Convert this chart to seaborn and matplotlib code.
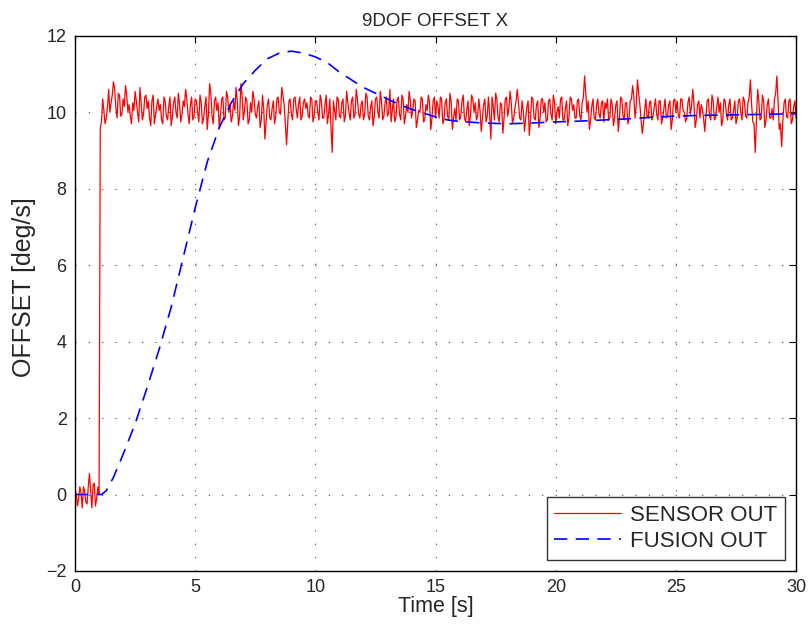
import numpy as np
import pandas as pd
import matplotlib
matplotlib.use("Agg")
import matplotlib.pyplot as plt
import seaborn as sns

# sensor output; samples on the 0.1 s grid...
sensor_start = [0.15, -0.3, 0.2, -0.35, 0.1, -0.25, 0.55, -0.35, 0.3, -0.1, 0.0]  # t = 0.0 .. 1.0
sensor_rest = [
    9.75, 10.05, 9.85, 10.6, 10.25, 10.8, 10.1, 10.5, 9.9, 10.35,
    10.7, 10.0, 9.9, 10.25, 10.55, 10.0, 10.65, 9.8, 10.4, 10.1,
    9.85, 10.3, 9.7, 10.15, 10.05, 9.8, 10.4, 9.9, 10.15, 9.65,
    10.25, 10.0, 10.5, 9.75, 10.3, 10.6, 9.95, 10.2, 9.8, 10.35,
    10.0, 10.45, 9.7, 10.15, 9.55, 10.75, 9.9, 10.3, 10.05, 9.6,
    10.35, 9.8, 10.55, 10.0, 9.75, 10.3, 10.65, 9.65, 10.75, 9.8,
    10.4, 9.7, 10.25, 10.55, 9.95, 10.15, 9.6, 10.45, 9.3, 10.2,
    9.85, 10.1, 9.7, 10.35, 10.0, 10.65, 10.2, 9.15, 10.3, 9.95,
    10.35, 10.1, 10.2, 9.8, 10.25, 10.1, 9.9, 10.4, 9.75, 10.3,
    10.0, 10.45, 9.85, 10.2, 9.7, 10.35, 8.95, 10.05, 10.4, 9.9,
    10.25, 9.75, 10.55, 10.0, 10.3, 9.85, 10.6, 9.95, 10.2, 9.8,
    10.5, 9.9, 10.15, 9.65, 10.35, 10.0, 10.55, 9.8, 10.25, 9.9,
    10.6, 10.05, 9.75, 10.3, 9.95, 10.45, 9.7, 10.2, 10.55, 9.85,
    10.35, 9.6, 10.05, 10.4, 9.75, 10.2, 10.45, 9.55, 10.3, 9.85,
    10.15, 10.4, 9.7, 10.25, 9.9, 10.5, 9.55, 10.1, 10.35, 9.8,
    10.3, 9.85, 10.05, 9.65, 10.45, 10.0, 9.8, 10.35, 9.5, 10.2,
    9.75, 10.4, 9.3, 10.15, 10.5, 9.85, 10.25, 9.45, 10.35, 9.9,
    10.55, 9.7, 10.1, 10.6, 9.85, 10.3, 9.5, 10.15, 9.4, 10.4,
    9.85, 10.2, 9.6, 10.35, 10.0, 9.75, 10.3, 9.95, 10.45, 9.7,
    10.15, 10.35, 9.8, 10.1, 9.65, 10.4, 10.05, 9.85, 10.3, 9.9,
    10.25, 10.95, 10.0, 9.55, 10.15, 9.85, 10.2, 9.95, 10.25, 9.75,
    10.1, 9.8, 10.35, 9.65, 10.2, 9.5, 10.4, 9.9, 10.25, 9.7,
    10.3, 10.7, 9.85, 10.85, 10.2, 9.45, 10.05, 9.9, 10.25, 9.8,
    10.15, 9.95, 10.3, 9.7, 10.1, 9.85, 10.2, 9.55, 10.3, 10.0,
    9.9, 10.35, 10.05, 9.75, 10.25, 9.95, 10.6, 9.6, 10.2, 9.85,
    10.1, 9.5, 10.3, 9.9, 10.45, 9.8, 10.15, 10.0, 9.65, 10.35,
    9.95, 10.2, 9.8, 10.05, 9.7, 10.3, 10.0, 10.4, 9.9, 10.25,
    10.85, 9.75, 8.95, 10.6, 9.8, 10.45, 9.6, 10.2, 9.85, 10.1,
    10.35, 10.95, 9.55, 9.1, 10.25, 9.9, 10.3, 9.7, 10.15, 9.85,
]
# ...and the samples half way between them (t = 0.05, 0.15, ...)
sensor_start_mid = [0.0, -0.1, 0.05, 0.2, -0.2, 0.2, 0.1, 0.25, -0.3, 0.2]
sensor_rest_mid = [
    9.6, 10.35, 9.7, 10.15, 10.0, 10.45, 10.6, 9.85, 10.45, 9.95,
    10.15, 10.45, 10.2, 9.7, 10.05, 10.3, 9.75, 10.25, 9.95, 10.45,
    10.3, 9.65, 10.45, 9.95, 10.35, 10.2, 9.7, 10.3, 9.8, 10.4,
    9.9, 10.4, 9.85, 10.2, 9.95, 10.15, 10.35, 9.7, 10.4, 9.9,
    10.3, 9.75, 10.25, 9.85, 10.4, 9.95, 10.5, 9.7, 10.4, 10.25,
    9.9, 10.4, 9.85, 10.4, 10.2, 9.9, 10.05, 10.3, 9.9, 10.45,
    10.05, 10.3, 9.8, 10.0, 10.35, 9.85, 10.3, 9.8, 10.1, 9.75,
    10.35, 9.8, 10.3, 9.9, 10.4, 9.95, 10.45, 9.7, 9.75, 10.35,
    9.8, 10.4, 9.85, 10.4, 9.9, 10.35, 10.25, 9.85, 10.35, 9.9,
    10.3, 9.8, 10.3, 9.85, 10.45, 9.95, 9.6, 10.3, 9.8, 10.35,
    9.85, 10.35, 9.9, 10.25, 9.8, 10.4, 9.95, 10.35, 9.85, 10.3,
    9.95, 10.4, 9.8, 10.3, 9.9, 10.4, 9.85, 10.3, 9.9, 10.4,
    10.0, 9.75, 10.35, 9.85, 10.4, 9.8, 10.35, 9.9, 10.0, 10.3,
    10.05, 10.3, 9.8, 10.0, 10.35, 9.8, 10.05, 10.25, 9.85, 10.4,
    10.3, 9.85, 10.35, 9.8, 10.35, 9.8, 10.25, 9.85, 9.8, 10.3,
    9.9, 10.45, 9.75, 10.3, 9.9, 10.35, 10.25, 9.9, 10.05, 9.85,
    10.35, 9.9, 9.95, 10.4, 9.8, 10.35, 9.75, 10.2, 9.85, 10.4,
    10.1, 10.25, 9.85, 10.3, 10.25, 9.8, 10.05, 9.85, 10.3, 9.8,
    10.35, 9.8, 10.3, 9.85, 10.35, 10.25, 9.8, 10.35, 9.8, 10.25,
    10.0, 9.85, 10.4, 9.8, 10.3, 9.85, 10.35, 10.2, 9.85, 10.35,
    9.8, 10.4, 10.5, 10.3, 9.8, 10.35, 9.8, 10.35, 9.85, 10.3,
    10.25, 10.35, 9.85, 10.2, 9.85, 10.3, 9.85, 10.35, 9.8, 10.25,
    9.85, 10.35, 10.4, 10.2, 10.5, 9.8, 9.7, 10.35, 9.85, 10.3,
    9.9, 10.35, 9.8, 10.3, 9.85, 10.35, 9.9, 10.3, 9.8, 10.35,
    10.3, 9.85, 10.35, 10.0, 9.85, 10.4, 10.15, 10.25, 9.8, 10.3,
    10.2, 9.85, 9.9, 10.35, 9.8, 10.3, 9.85, 10.4, 10.25, 9.8,
    10.3, 9.8, 10.35, 9.85, 10.3, 9.85, 10.35, 9.8, 10.3, 9.85,
    10.4, 10.2, 9.7, 9.8, 10.3, 9.85, 10.3, 9.8, 10.35, 9.85,
    9.8, 10.5, 10.3, 9.7, 9.8, 10.35, 9.85, 10.35, 9.8, 10.3,
]

# fusion output
fusion_t = [0, 1.1, 1.3, 1.6, 2.0, 2.5, 3.0, 3.5, 4.0, 4.5, 5.0, 5.5, 6.0, 6.5,
            7.0, 7.5, 8.0, 8.5, 9.0, 9.5, 10.0, 10.5, 11.0, 11.5, 12.0, 12.5,
            13.0, 13.5, 14.0, 14.5, 15.0, 15.5, 16, 17, 18, 19, 20, 21, 22,
            23, 24, 25, 26, 27, 28, 29, 30]
fusion_y = [0, 0, 0.1, 0.45, 1.05, 1.85, 2.8, 3.8, 4.9, 6.2, 7.5, 8.7, 9.6, 10.25,
            10.75, 11.1, 11.4, 11.55, 11.6, 11.55, 11.45, 11.3, 11.05, 10.85, 10.65, 10.5,
            10.35, 10.2, 10.08, 9.98, 9.88, 9.8, 9.76, 9.72, 9.7, 9.72, 9.75, 9.77, 9.8,
            9.83, 9.87, 9.9, 9.92, 9.93, 9.94, 9.95, 9.96]

on_grid = sensor_start + sensor_rest
mid = sensor_start_mid + sensor_rest_mid
sensor_df = pd.concat([
    pd.DataFrame({"t": np.arange(len(on_grid)) * 0.1, "y": on_grid}),
    pd.DataFrame({"t": np.arange(len(mid)) * 0.1 + 0.05, "y": mid}),
]).sort_values("t")
sensor_df["t"] = sensor_df["t"].round(2)
fusion_df = pd.DataFrame({"t": fusion_t, "y": fusion_y})

sns.set_style("white")
plt.rcParams["font.family"] = ["Liberation Sans", "DejaVu Sans"]

fig = plt.figure(figsize=(8.12, 6.24), dpi=100)
ax = fig.add_axes([0.0924, 0.085, 0.888, 0.8575])

sns.lineplot(data=sensor_df, x="t", y="y", color="red", lw=0.9, label="SENSOR OUT", ax=ax)
sns.lineplot(data=fusion_df, x="t", y="y", color="blue", lw=1.2, ls="--", label="FUSION OUT", ax=ax)
ax.lines[-1].set_dashes((8, 5))

ax.set_xlim(0, 30)
ax.set_ylim(-2, 12)
ax.set_xticks(range(0, 31, 5))
ax.set_yticks(range(-2, 13, 2))
ax.grid(True, color="0.25", linestyle=(0, (1, 11)), lw=0.8)
ax.tick_params(direction="in", length=5, top=True, right=True, labelsize=13,
               width=0.8, color="black", pad=6)
for s in ax.spines.values():
    s.set_color("black")
    s.set_linewidth(1.0)

ax.set_title("9DOF OFFSET X", fontsize=13.5, pad=7)
ax.set_xlabel("Time [s]", fontsize=15.5, labelpad=0)
ax.set_ylabel("OFFSET [deg/s]", fontsize=18)
ax.yaxis.set_label_coords(-0.054, 0.53)

leg = ax.legend(loc="lower right", fontsize=16, frameon=True, fancybox=False,
                edgecolor="0.2", framealpha=1, handlelength=3.0, handletextpad=0.4,
                borderpad=0.35, labelspacing=0.25, borderaxespad=0.5)
leg.get_frame().set_linewidth(1.0)

fig.savefig("out.png", dpi=100)
